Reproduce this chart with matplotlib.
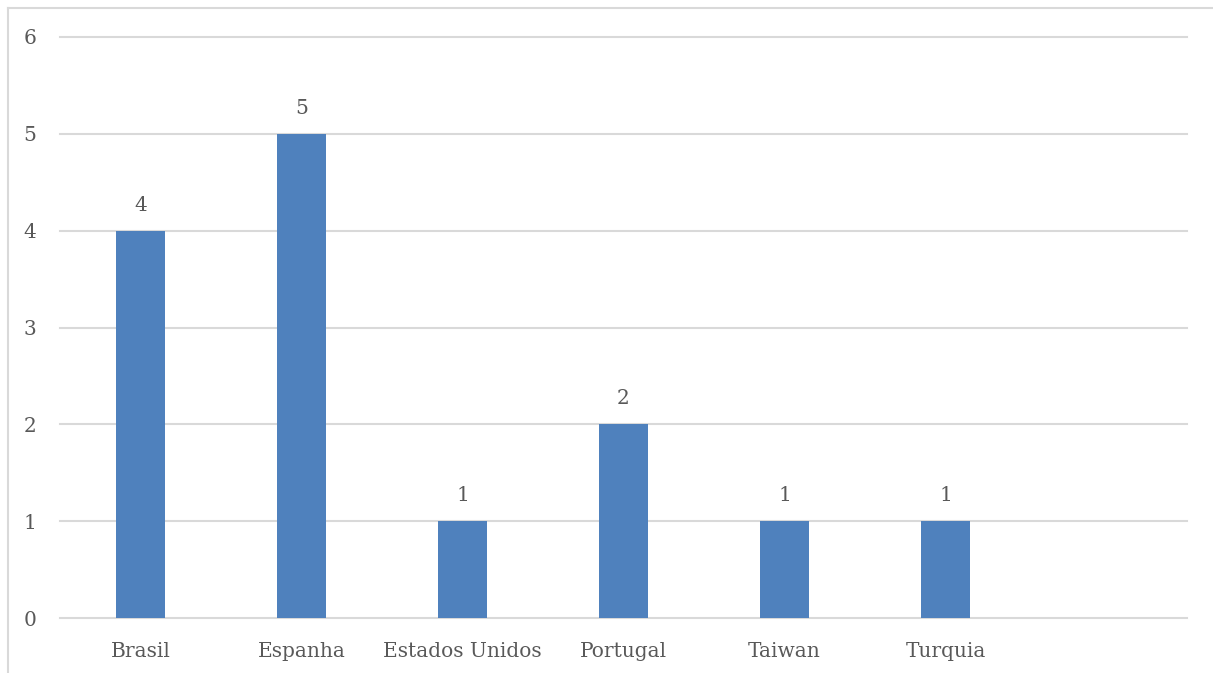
import matplotlib
matplotlib.use("Agg")
import matplotlib.pyplot as plt
from matplotlib.lines import Line2D

categories = ["Brasil", "Espanha", "Estados Unidos", "Portugal", "Taiwan", "Turquia", ""]
values = [4, 5, 1, 2, 1, 1, None]
yticks = [0, 1, 2, 3, 4, 5, 6]

W, H = 1213, 673
fig = plt.figure(figsize=(W / 100, H / 100), dpi=100)
plt.rcParams['font.family'] = ['DejaVu Serif']
txt = '#595959'
grid = '#D9D9D9'

ax = fig.add_axes([60 / W, 1 - 618 / H, (1187 - 60) / W, (618 - 37) / H])
x = list(range(len(categories)))
bx = [i for i, v in zip(x, values) if v is not None]
bv = [v for v in values if v is not None]
bars = ax.bar(bx, bv, width=0.31, color='#4F81BD', zorder=3)
ax.set_xlim(-0.5, len(categories) - 0.5)
ax.set_ylim(0, 6)
ax.set_yticks(yticks)
ax.set_yticklabels([str(t) for t in yticks])
ax.set_xticks(x)
ax.set_xticklabels(categories)
for s in ax.spines.values():
    s.set_visible(False)
ax.tick_params(axis='both', length=0, labelsize=14.5, colors=txt)
ax.tick_params(axis='y', pad=17)
ax.tick_params(axis='x', pad=17)
for t in yticks:
    ax.axhline(t, color=grid, lw=1.5, zorder=1, clip_on=False)
for b, v in zip(bars, bv):
    ax.annotate(str(v), (b.get_x() + b.get_width() / 2, v), xytext=(0, 11.5),
                textcoords='offset points', ha='center', va='bottom',
                fontsize=14.5, color=txt)

# outer chart frame (left and top edges visible)
fig.add_artist(Line2D([7.5 / W, 7.5 / W], [0, 1 - 7.5 / H], color=grid, lw=1.5,
                      transform=fig.transFigure))
fig.add_artist(Line2D([7.5 / W, 1], [1 - 7.5 / H, 1 - 7.5 / H], color=grid, lw=1.5,
                      transform=fig.transFigure))

fig.savefig('out.png', dpi=100)
